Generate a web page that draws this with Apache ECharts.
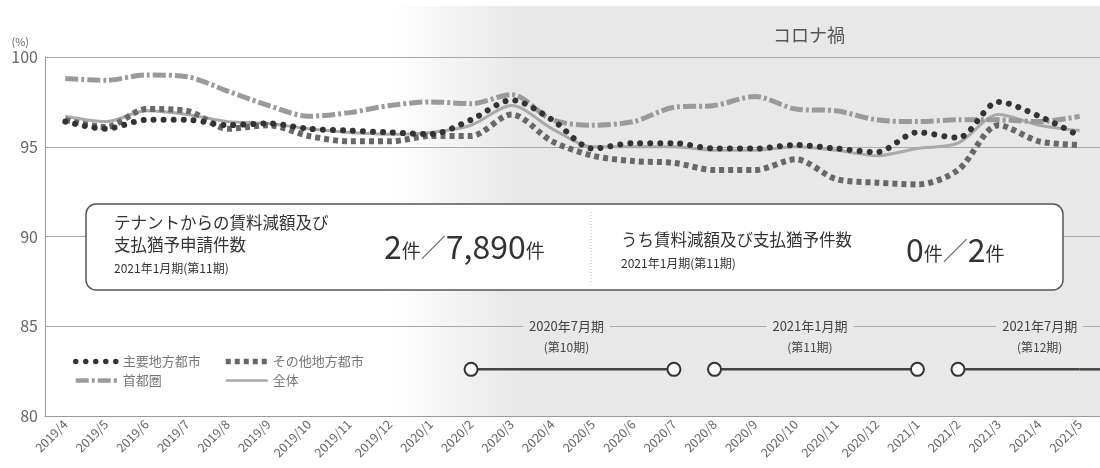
<!DOCTYPE html>
<html>
<head>
<meta charset="utf-8">
<script src="https://cdn.jsdelivr.net/npm/echarts@6/dist/echarts.min.js"></script>
<style>
  html, body { margin: 0; padding: 0; background: #fff; }
  #chart { width: 1100px; height: 468px; }
</style>
</head>
<body>
<div id="chart"></div>
<script>
// Monthly occupancy rates (%) by area
const months = [
  '2019/4', '2019/5', '2019/6', '2019/7', '2019/8', '2019/9', '2019/10', '2019/11', '2019/12',
  '2020/1', '2020/2', '2020/3', '2020/4', '2020/5', '2020/6', '2020/7', '2020/8', '2020/9',
  '2020/10', '2020/11', '2020/12', '2021/1', '2021/2', '2021/3', '2021/4', '2021/5'
];
const majorRegional = [96.4, 96.0, 96.5, 96.5, 96.2, 96.3, 96.0, 95.9, 95.8, 95.7, 96.5, 97.6, 96.5,
  94.9, 95.2, 95.2, 94.9, 94.9, 95.1, 94.9, 94.7, 95.8, 95.5, 97.5, 96.7, 95.6];
const otherRegional = [96.5, 96.1, 97.1, 97.0, 96.0, 96.2, 95.6, 95.3, 95.3, 95.6, 95.6, 96.8, 95.3,
  94.5, 94.2, 94.1, 93.7, 93.7, 94.3, 93.2, 93.0, 92.9, 93.7, 96.2, 95.3, 95.1];
const tokyoArea = [98.8, 98.7, 99.0, 98.9, 98.1, 97.3, 96.7, 96.9, 97.3, 97.5, 97.4, 97.9, 96.5,
  96.2, 96.4, 97.2, 97.3, 97.8, 97.1, 97.0, 96.5, 96.4, 96.5, 96.5, 96.4, 96.7];
const overall = [96.7, 96.4, 97.0, 96.8, 96.4, 96.3, 96.0, 95.8, 95.7, 95.8, 96.2, 97.3, 96.0,
  95.0, 95.0, 95.0, 94.8, 94.8, 95.0, 94.8, 94.5, 94.9, 95.2, 96.8, 96.2, 95.9];
const yTicks = [80, 85, 90, 95, 100];

// Fiscal periods drawn as bars under the chart
const periodStart = ['2020/2', '2020/8', '2021/2'];
const periodEnd = ['2020/7', '2021/1', '2021/5'];
const periodOpenEnded = [false, false, true];
const periodName = ['2020年7月期', '2021年1月期', '2021年7月期'];
const periodNo = ['(第10期)', '(第11期)', '(第12期)'];
const periodLevel = 82.6;
const covidStart = '2019/12';

const FONT = '"Noto Sans CJK JP", "Noto Sans", sans-serif';
const BAND = '#e8e8e8';

// Line looks shared by the series and their legend keys
const STYLE = {
  '主要地方都市': { color: '#333', width: 6, type: [0.01, 10], cap: 'round' },
  'その他地方都市': { color: '#686868', width: 6, type: [5, 4] },
  '首都圏': { color: '#9a9a9a', width: 5, type: [13, 3, 3, 3] },
  '全体': { color: '#a9a9a9', width: 3 }
};
const legendItem = name => ({
  name,
  itemStyle: { opacity: 0 },
  lineStyle: Object.assign({}, STYLE[name], { width: STYLE[name].width - 0.5 })
});

const chart = echarts.init(document.getElementById('chart'));

const periodSeries = periodStart.map((s, i) => ({
  type: 'line',
  silent: true,
  data: [
    { value: [s, periodLevel] },
    { value: [periodEnd[i], periodLevel], symbol: periodOpenEnded[i] ? 'none' : 'circle' }
  ],
  symbol: 'circle',
  symbolSize: 13,
  itemStyle: { color: '#fff', borderColor: '#333', borderWidth: 2 },
  lineStyle: { color: '#444', width: 2.5 },
  z: 7
}));

const lineSeries = (name, data, z) => ({
  name, type: 'line', data, smooth: 0.3, symbol: 'none', z,
  lineStyle: STYLE[name], itemStyle: { color: STYLE[name].color }
});

const legendCommon = {
  orient: 'vertical', top: 350,
  itemWidth: 42, itemHeight: 8, itemGap: 6,
  textStyle: { fontSize: 13, color: '#777' }
};

chart.setOption({
  animation: false,
  textStyle: { fontFamily: FONT },
  grid: { left: 45, right: 0, top: 57, bottom: 52 },
  xAxis: {
    type: 'category',
    data: months,
    boundaryGap: true,
    axisLine: { lineStyle: { color: '#999', width: 1 } },
    axisTick: { inside: true, length: 8, lineStyle: { color: '#999' } },
    axisLabel: { rotate: 45, interval: 0, fontSize: 12.5, color: '#666', margin: 6 }
  },
  yAxis: {
    type: 'value',
    min: yTicks[0],
    max: yTicks[yTicks.length - 1],
    interval: yTicks[1] - yTicks[0],
    name: '(%)',
    nameGap: 10,
    nameTextStyle: { align: 'right', fontSize: 11, color: '#666', padding: [0, 16, 0, 0] },
    axisLine: { show: true, lineStyle: { color: '#999' } },
    axisTick: { show: false },
    splitLine: { lineStyle: { color: '#aaa', width: 1 } },
    axisLabel: { fontSize: 16, color: '#666', margin: 7 }
  },
  legend: [
    Object.assign({ left: 68, data: ['主要地方都市', '首都圏'].map(legendItem) }, legendCommon),
    Object.assign({ left: 218, data: ['その他地方都市', '全体'].map(legendItem) }, legendCommon)
  ],
  series: [
    lineSeries('全体', overall, 2),
    lineSeries('首都圏', tokyoArea, 3),
    lineSeries('その他地方都市', otherRegional, 4),
    lineSeries('主要地方都市', majorRegional, 5),
    ...periodSeries
  ]
});

// Decorations positioned from the axes
const px = (cat, v) => chart.convertToPixel({ gridIndex: 0 }, [cat, v]);
const gridRect = chart.getModel().getComponent('grid').coordinateSystem.getRect();
const bandX = px(covidStart, 90)[0];
const bandRight = gridRect.x + gridRect.width;
const bandBottom = gridRect.y + gridRect.height;
const gridY85 = px(months[0], 85)[1];

const graphics = [
  {
    type: 'rect', z: -10, silent: true,
    shape: { x: bandX, y: 6, width: bandRight - bandX, height: bandBottom - 6 },
    style: {
      fill: new echarts.graphic.LinearGradient(0, 0, 1, 0, [
        { offset: 0, color: '#ffffff' },
        { offset: 0.18, color: BAND },
        { offset: 1, color: BAND }
      ])
    }
  },
  {
    type: 'text', z: 10, silent: true,
    style: { text: 'コロナ禍', x: 809, y: 35, align: 'center', verticalAlign: 'middle',
      fontSize: 18, fill: '#555', fontFamily: FONT }
  }
];

// Period labels sitting on the 85% gridline
periodStart.forEach((s, i) => {
  const x0 = px(s, periodLevel)[0];
  const x1 = periodOpenEnded[i] ? px(periodEnd[i], periodLevel)[0] - 40 : px(periodEnd[i], periodLevel)[0];
  const cx = periodOpenEnded[i] ? x1 : (x0 + x1) / 2 - 6;
  graphics.push({
    type: 'text', z: 10, silent: true,
    style: { text: periodName[i], x: cx, y: gridY85, align: 'center', verticalAlign: 'middle',
      fontSize: 13, fill: '#444', fontFamily: FONT, backgroundColor: BAND, padding: [1, 6] }
  });
  graphics.push({
    type: 'text', z: 10, silent: true,
    style: { text: periodNo[i], x: cx, y: gridY85 + 21, align: 'center', verticalAlign: 'middle',
      fontSize: 12, fill: '#444', fontFamily: FONT }
  });
  if (periodOpenEnded[i]) {
    const p = px(periodEnd[i], periodLevel);
    graphics.push({
      type: 'line', z: 10, silent: true,
      shape: { x1: p[0], y1: p[1], x2: bandRight, y2: p[1] },
      style: { stroke: '#444', lineWidth: 2.5 }
    });
  }
});

// Info panel
const bigRich = {
  n: { fontSize: 32, fill: '#333', fontFamily: FONT },
  u: { fontSize: 19, fill: '#333', fontFamily: FONT, padding: [8, 0, 0, 0] },
  s: { fontSize: 25, fill: '#666', fontFamily: FONT }
};
graphics.push({
  type: 'group', z: 20, silent: true,
  children: [
    { type: 'rect', shape: { x: 86, y: 204, width: 977, height: 86, r: 10 },
      style: { fill: '#fff', stroke: '#555', lineWidth: 1.5 } },
    { type: 'line', shape: { x1: 591, y1: 212, x2: 591, y2: 282 },
      style: { stroke: '#bbb', lineWidth: 1, lineDash: [1, 2] } },
    { type: 'text', style: { text: 'テナントからの賃料減額及び', x: 114, y: 223, verticalAlign: 'middle',
      fontSize: 16.5, fill: '#333', fontFamily: FONT } },
    { type: 'text', style: { text: '支払猶予申請件数', x: 114, y: 245, verticalAlign: 'middle',
      fontSize: 16.5, fill: '#333', fontFamily: FONT } },
    { type: 'text', style: { text: '2021年1月期(第11期)', x: 114, y: 268, verticalAlign: 'middle',
      fontSize: 12, fill: '#333', fontFamily: FONT } },
    { type: 'text', style: {
      text: '{n|2}{u|件}{s|／}{n|7,890}{u|件}', x: 384, y: 247, verticalAlign: 'middle',
      fontFamily: FONT, rich: bigRich } },
    { type: 'text', style: { text: 'うち賃料減額及び支払猶予件数', x: 621, y: 240, verticalAlign: 'middle',
      fontSize: 16.5, fill: '#333', fontFamily: FONT } },
    { type: 'text', style: { text: '2021年1月期(第11期)', x: 621, y: 263, verticalAlign: 'middle',
      fontSize: 12, fill: '#333', fontFamily: FONT } },
    { type: 'text', style: {
      text: '{n|0}{u|件}{s|／}{n|2}{u|件}', x: 906, y: 250, verticalAlign: 'middle',
      fontFamily: FONT, rich: bigRich } }
  ]
});

chart.setOption({ graphic: graphics });
</script>
</body>
</html>
